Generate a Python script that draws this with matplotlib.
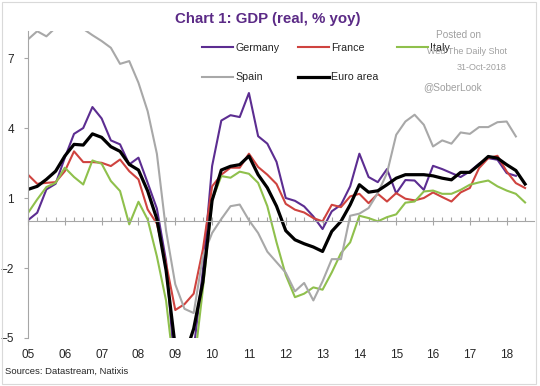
import matplotlib
matplotlib.use("Agg")
import matplotlib.pyplot as plt
import numpy as np
from matplotlib.ticker import FixedLocator, NullFormatter
from matplotlib.patches import Rectangle

plt.rcParams['font.family'] = ['Liberation Sans', 'DejaVu Sans']

start_year = 2005
year_labels = ["05", "06", "07", "08", "09", "10", "11", "12", "13", "14", "15", "16", "17", "18"]

germany = [0.05, 0.37, 1.37, 1.61, 2.73, 3.75, 4.0, 4.9, 4.41, 3.47, 3.3, 2.44, 2.73, 1.65,
           0.55, -1.7, -6.6, -6.8, -5.5, -2.1, 2.37, 4.32, 4.55, 4.47, 5.5, 3.65, 3.33, 2.55,
           1.0, 0.88, 0.64, 0.21, -0.33, 0.43, 0.71, 1.5, 2.9, 1.9, 1.68, 2.24, 1.2, 1.77,
           1.75, 1.35, 2.38, 2.24, 2.07, 1.9, 2.14, 2.47, 2.71, 2.64, 2.07, 1.95]
france = [2.0, 1.61, 1.65, 1.68, 2.15, 3.0, 2.54, 2.54, 2.51, 2.37, 2.65, 2.15, 1.8, 0.51,
          -0.1, -1.8, -3.8, -3.55, -3.1, -1.2, 1.5, 2.0, 2.3, 2.3, 2.9, 2.33, 2.0, 1.6,
          0.75, 0.5, 0.38, 0.14, 0.0, 0.71, 0.61, 1.07, 1.18, 0.78, 1.18, 0.85, 1.21, 0.97,
          0.9, 1.0, 1.24, 1.04, 0.85, 1.24, 1.43, 2.28, 2.71, 2.81, 2.14, 1.64, 1.43]
italy = [0.36, 0.94, 1.47, 1.65, 2.3, 1.9, 1.58, 2.61, 2.47, 1.73, 1.3, -0.13, 0.84, 0.08,
         -1.5, -3.4, -6.8, -6.9, -6.3, -2.9, 0.9, 1.94, 1.87, 2.13, 2.04, 1.65, 0.65, -0.9,
         -2.3, -3.25, -3.1, -2.83, -2.93, -2.19, -1.36, -0.9, 0.24, 0.14, 0.0, 0.18, 0.3, 0.8,
         0.85, 1.28, 1.32, 1.18, 1.18, 1.35, 1.57, 1.67, 1.75, 1.5, 1.32, 1.18, 0.81]
spain = [7.8, 8.15, 7.93, 8.3, 8.5, 8.6, 8.25, 7.98, 7.73, 7.44, 6.75, 6.87, 5.94, 4.72,
         2.9, -0.4, -2.7, -3.75, -3.93, -1.5, -0.5, 0.1, 0.65, 0.72, 0.05, -0.5, -1.3, -1.75,
         -2.2, -3.0, -2.64, -3.39, -2.57, -1.62, -1.62, 0.24, 0.33, 0.57, 1.21, 2.07, 3.71, 4.28,
         4.57, 4.14, 3.21, 3.47, 3.33, 3.81, 3.75, 4.04, 4.04, 4.25, 4.28, 3.64]
euro_area = [1.37, 1.5, 1.8, 2.15, 2.8, 3.3, 3.27, 3.75, 3.6, 3.2, 3.0, 2.44, 2.2, 1.3,
             0.1, -2.1, -5.4, -5.8, -4.6, -2.6, 0.9, 2.2, 2.36, 2.43, 2.8, 2.0, 1.44, 0.65,
             -0.4, -0.79, -0.96, -1.1, -1.29, -0.43, 0.0, 0.71, 1.57, 1.25, 1.31, 1.57, 1.85, 2.0,
             2.0, 2.0, 1.95, 1.85, 1.78, 2.1, 2.1, 2.43, 2.78, 2.71, 2.43, 2.18, 1.6]

def quarters(n):
    return start_year + np.arange(n) / 4.0

W, H = 540, 386
fig = plt.figure(figsize=(W / 100, H / 100), dpi=100)
ymin, ymax = -5, 8.15
ax = fig.add_axes([28 / W, (H - 338) / H, 506 / W, (13.15 * 23.33) / H])
ax.set_xlim(start_year, start_year + 506 / 36.82)
ax.set_ylim(ymin, ymax)

grey_axis = '#A6A6A6'
l_de, = ax.plot(quarters(len(germany)), germany, color='#5C2D91', lw=1.5, label='Germany')
l_fr, = ax.plot(quarters(len(france)), france, color='#CF433F', lw=1.5, label='France')
l_it, = ax.plot(quarters(len(italy)), italy, color='#8FC04C', lw=1.5, label='Italy')
l_es, = ax.plot(quarters(len(spain)), spain, color='#A8A8A8', lw=1.5, label='Spain')
l_ea, = ax.plot(quarters(len(euro_area)), euro_area, color='black', lw=2.3, label='Euro area')

for s in ['top', 'right']:
    ax.spines[s].set_visible(False)
ax.spines['bottom'].set_position(('data', 0))
ax.spines['bottom'].set_color(grey_axis)
ax.spines['left'].set_color(grey_axis)
ax.spines['bottom'].set_linewidth(0.8)
ax.spines['left'].set_linewidth(0.8)

years = np.arange(start_year, start_year + len(year_labels))
ax.xaxis.set_major_locator(FixedLocator(years))
qs = quarters(len(year_labels) * 4)
ax.xaxis.set_minor_locator(FixedLocator([q for q in qs if q % 1 != 0]))
ax.xaxis.set_major_formatter(NullFormatter())
ax.tick_params(axis='x', which='major', direction='inout', length=6, width=0.8, color=grey_axis)
ax.tick_params(axis='x', which='minor', direction='in', length=3, width=0.8, color=grey_axis)

ax.set_yticks([-5, -2, 1, 4, 7])
ax.tick_params(axis='y', direction='out', length=3, width=0.8, color=grey_axis,
               labelsize=8.5, labelcolor='#262626', pad=7)

sec = ax.secondary_xaxis(0.0)
sec.set_xticks(years)
sec.set_xticklabels(year_labels)
sec.tick_params(length=0, labelsize=8.5, labelcolor='#262626', pad=8)
sec.spines['bottom'].set_visible(False)

# watermark
wm = '#A0A0A0'
fig.text(458 / W, 1 - 35 / H, 'Posted on', ha='center', va='center', fontsize=7.2, color=wm)
fig.text(507 / W, 1 - 51.3 / H, 'Wed The Daily Shot', ha='right', va='center', fontsize=6.5, color=wm)
fig.text(507 / W, 1 - 67.3 / H, '31-Oct-2018', ha='right', va='center', fontsize=6.5, color=wm)
fig.text(453 / W, 1 - 87.3 / H, '@SoberLook', ha='center', va='center', fontsize=7.3, color=wm)

leg = ax.legend([l_de, l_es, l_fr, l_ea, l_it], ['Germany', 'Spain', 'France', 'Euro area', 'Italy'],
                ncol=3, frameon=False, fontsize=7.7, handlelength=2.9, handletextpad=0.2,
                columnspacing=1.75, labelspacing=1.82, loc='upper left',
                bbox_to_anchor=(202 / W, 1 - 43 / H), bbox_transform=fig.transFigure,
                borderpad=0, borderaxespad=0)
for t in leg.get_texts():
    t.set_color('#262626')
leg.set_zorder(5)

fig.text(268 / W, 1 - 19 / H, 'Chart 1: GDP (real, % yoy)', ha='center', va='center',
         fontsize=10.8, fontweight='bold', color='#5B2A86')
fig.text(5 / W, 1 - 371.7 / H, 'Sources: Datastream, Natixis', ha='left', va='center',
         fontsize=6.8, color='#262626')

fig.patches.append(Rectangle((1.5 / W, 2.5 / H), 534 / W, 382 / H, transform=fig.transFigure,
                             fill=False, edgecolor='#D9D9D9', lw=0.8))

fig.savefig('out.png', dpi=100)
